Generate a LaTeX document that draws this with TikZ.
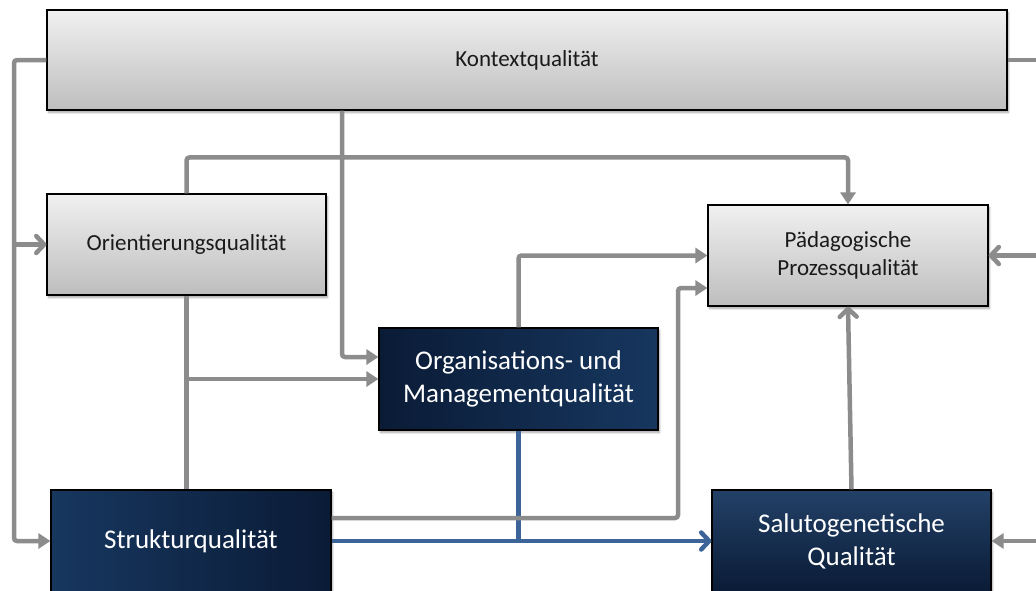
\documentclass[tikz,border=0pt]{standalone}
\usepackage{fontspec}
\setmainfont{Carlito}
\usetikzlibrary{arrows.meta,shadows.blur,calc}
\definecolor{lineGray}{HTML}{8C8C8C}
\definecolor{lineBlue}{HTML}{3D6499}
\definecolor{navyA}{HTML}{0A1B36}
\definecolor{navyB}{HTML}{17375F}
\definecolor{grayTop}{HTML}{F0F0F0}
\definecolor{grayBot}{HTML}{BEBEBE}
\definecolor{txtDark}{HTML}{1A1A1A}
\tikzset{
  boxbase/.style={draw=black, line width=1.1pt, inner sep=4pt, align=center,
    blur shadow={shadow blur steps=6, shadow xshift=1.5pt, shadow yshift=-2.5pt, shadow opacity=35}},
  graybox/.style={boxbase, top color=grayTop, bottom color=grayBot, text=txtDark,
    font=\fontsize{23}{28}\selectfont},
  navybox/.style={boxbase, text=white, font=\fontsize{27}{33}\selectfont},
  gl/.style={draw=lineGray, line width=4.5pt, rounded corners=3pt},
  bl/.style={draw=lineBlue, line width=4.5pt, rounded corners=3pt},
  tri/.style={-{Triangle[length=12pt,width=15pt]}},
  chev/.style={-{Straight Barb[length=8pt,width=17pt,round]}},
}
\begin{document}
\begin{tikzpicture}[x=1pt,y=-1pt]
\useasboundingbox (0,0) rectangle (1036,590);
\clip (0,0) rectangle (1036,590);
% column helpers
\coordinate (xL) at (14,0);
\coordinate (xK) at (342,0);
\coordinate (xS) at (678,0);
\coordinate (xR) at (1045,0);

% boxes
\node[graybox, minimum width=960pt, minimum height=100pt] (K) at (527,60) {Kontextqualität};
\node[graybox, minimum width=279pt, minimum height=101pt] (O) at (186.5,244.5) {Orientierungsqualität};
\node[graybox, minimum width=280pt, minimum height=101pt] (P) at (848,255.5) {Pädagogische\\Prozessqualität};
\node[navybox, left color=navyA, right color=navyB, minimum width=279pt, minimum height=102pt] (Org) at (518.5,379) {Organisations- und\\Managementqualität};
\node[navybox, left color=navyB, right color=navyA, minimum width=280pt, minimum height=102pt] (S) at (191,541) {Strukturqualität};
\node[navybox, top color=navyB!95!white, bottom color=navyA, minimum width=279pt, minimum height=102pt] (Sa) at (851.5,541) {Salutogenetische\\Qualität};

% connectors
\draw[gl, tri] (K.west) -- (K.west -| xL) |- (S.west);
\draw[gl, chev] (O.west -| xL) -- (O.west);
\draw[gl] (K.east) -- (K.east -| xR);
\draw[gl, tri] (K.south -| xK) |- ([yshift=22pt]Org.west);
\draw[gl, tri] (O.north) -- ++(0,-36) -| (P.north);
\draw[gl] (O.south) -- (O.south |- S.north);
\draw[gl, tri] (O.south |- Org.west) -- (Org.west);
\draw[gl, tri] (Org.north) |- (P.west);
\draw[bl] (Org.south) -- (Org.south |- S.east);
\draw[bl, chev] (S.east) -- (Sa.west);
\draw[gl, tri] ([yshift=23pt]S.east) -- ([yshift=23pt]S.east -| xS) |- ([yshift=-32.5pt]P.west);
\draw[gl, chev] (Sa.north) -- (P.south);
\draw[gl, chev] (P.east -| xR) -- (P.east);
\draw[gl, tri] (Sa.east -| xR) -- (Sa.east);
\end{tikzpicture}
\end{document}
